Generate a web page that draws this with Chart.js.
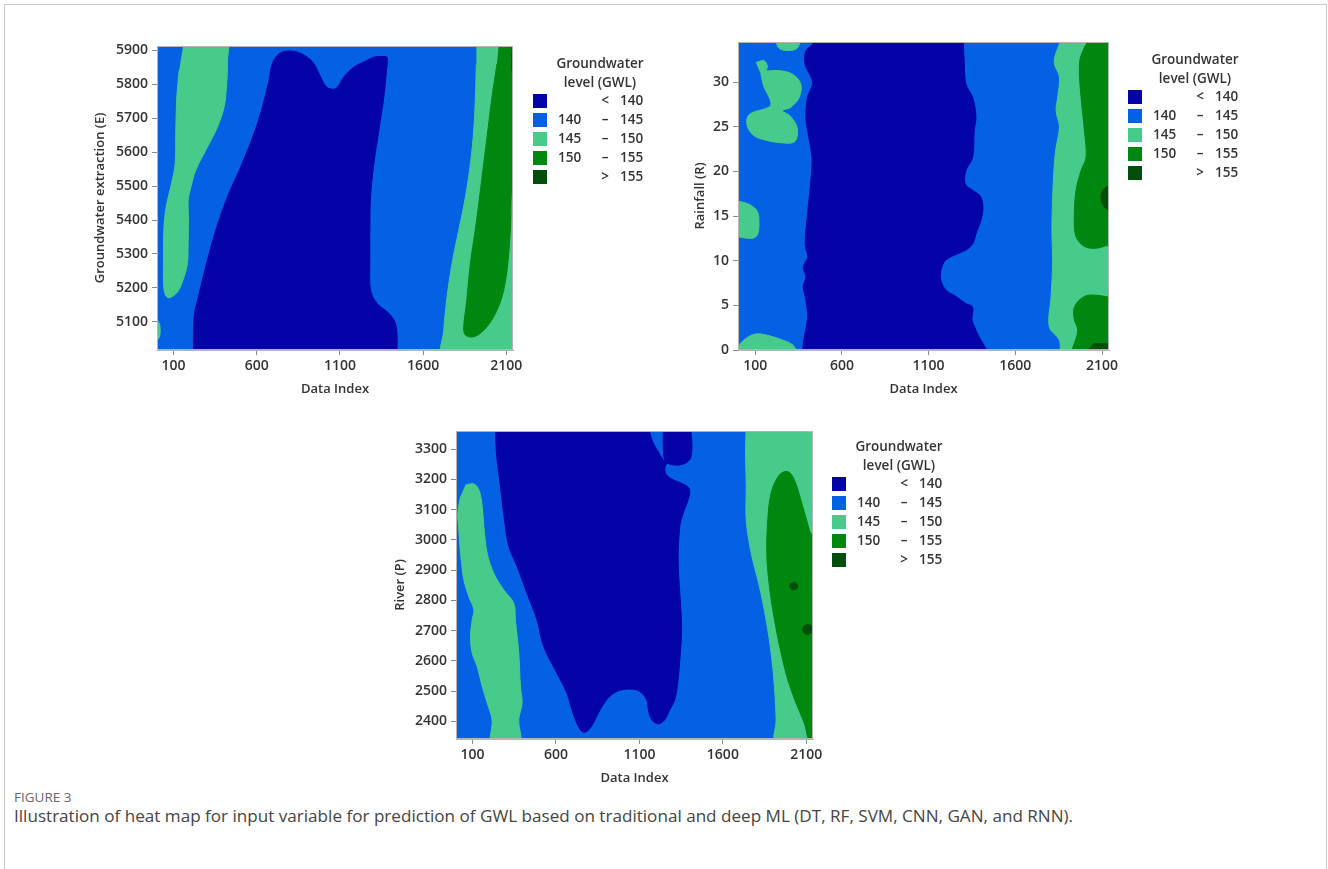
<!DOCTYPE html>
<html>
<head>
<meta charset="utf-8">
<script src="https://cdn.jsdelivr.net/npm/chart.js@4.4.1/dist/chart.umd.min.js"></script>
<style>
  body { margin: 0; background: #fff; width: 1328px; height: 869px; overflow: hidden; position: relative; font-family: "Open Sans", sans-serif; }
  .frame { position: absolute; left: 4px; top: 4px; width: 1321px; height: 900px; border: 1px solid #c9c9c9; border-bottom: none; }
  canvas { position: absolute; }
  .legend { position: absolute; font: 600 13.5px "Open Sans", sans-serif; color: #333; }
  .legend .ttl { position: absolute; left: 0; top: 0; width: 134px; text-align: center; line-height: 19px; }
  .legend .row { position: absolute; left: 0; width: 150px; height: 19px; line-height: 19px; }
  .legend .sw { position: absolute; left: 0; top: 2.5px; width: 14px; height: 14px; }
  .legend .lo { position: absolute; left: 25px; }
  .legend .sg { position: absolute; left: 62px; width: 20px; text-align: center; }
  .legend .hi { position: absolute; left: 87px; }
  .cap1 { position: absolute; left: 14px; top: 788px; font: 400 13.5px "Open Sans", sans-serif; color: #666; }
  .cap2 { position: absolute; left: 14px; top: 804px; font: 400 17.1px "Open Sans", sans-serif; color: #444; white-space: nowrap; }
</style>
</head>
<body>
<div class="frame"></div>
<canvas id="c1" width="470" height="380" style="left:70px; top:30px"></canvas>
<canvas id="c2" width="470" height="380" style="left:670px; top:30px"></canvas>
<canvas id="c3" width="470" height="384" style="left:370px; top:415px"></canvas>
<div class="legend" id="lg1" style="left:533px; top:54px"></div>
<div class="legend" id="lg2" style="left:1128px; top:50px"></div>
<div class="legend" id="lg3" style="left:832px; top:437px"></div>
<div class="cap1">FIGURE 3</div>
<div class="cap2">Illustration of heat map for input variable for prediction of GWL based on traditional and deep ML (DT, RF, SVM, CNN, GAN, and RNN).</div>
<script>
// axis values
const xTicks = [100, 600, 1100, 1600, 2100];
const xRange = [1, 2140];
const p1YTicks = [5100, 5200, 5300, 5400, 5500, 5600, 5700, 5800, 5900];
const p1YRange = [5017, 5913];
const p2YTicks = [0, 5, 10, 15, 20, 25, 30];
const p2YRange = [0, 34.5];
const p3YTicks = [2400, 2500, 2600, 2700, 2800, 2900, 3000, 3100, 3200, 3300];
const p3YRange = [2342, 3360];

// GWL classes: < 140, 140-145, 145-150, 150-155, > 155
const gwlBreaks = [140, 145, 150, 155];
const gwlColors = ['#0303a8', '#0561e3', '#47cb8b', '#00870f', '#004e0b'];

// contour outlines, [data index, variable]
// panel 1 - groundwater extraction
const p1GreenLeft = [[170,5950],[414,5950],[424,5861],[420,5802],[404,5733],[364,5674],[304,5615],[234,5547],[200,5488],[188,5458],[190,5409],[188,5331],[184,5272],[164,5233],[124,5188],[68,5171],[44,5193],[40,5272],[44,5390],[60,5449],[88,5507],[110,5566],[114,5664],[120,5763],[134,5841]];
const p1GreenEdge = [[-30,5110],[10,5100],[20,5075],[10,5050],[-30,5040]];
const p1DarkBlue = [[220,4990],[224,5115],[254,5183],[304,5282],[354,5370],[424,5468],[504,5557],[584,5655],[634,5733],[674,5812],[694,5861],[734,5890],[784,5898],[844,5895],[904,5880],[944,5861],[984,5822],[1020,5792],[1074,5787],[1124,5822],[1184,5851],[1244,5866],[1304,5880],[1354,5882],[1384,5879],[1380,5841],[1364,5763],[1334,5664],[1304,5566],[1284,5468],[1280,5370],[1280,5272],[1284,5193],[1324,5154],[1394,5125],[1434,5095],[1444,5046],[1440,4990]];
const p1GreenRight = [[1920,5950],[2200,5950],[2200,4990],[1720,4990],[1724,5075],[1744,5174],[1774,5272],[1814,5370],[1854,5468],[1884,5566],[1904,5664],[1914,5763],[1920,5861]];
const p1Mid = [[2060,5950],[2200,5950],[2200,5566],[2140,5517],[2124,5370],[2104,5252],[2074,5174],[2024,5115],[1964,5075],[1904,5056],[1854,5061],[1844,5085],[1860,5154],[1884,5272],[1924,5409],[1954,5527],[1984,5645],[2014,5763],[2044,5861]];
const p1High = [[2128,5950],[2200,5950],[2200,5820],[2140,5831],[2132,5890]];

// panel 2 - rainfall
const p2DarkBlue = [[450,36],[431,34.3],[392,33.5],[388,32.0],[421,30.6],[431,29.8],[402,28.3],[392,26.1],[402,24.6],[427,21.6],[421,19.0],[402,15.3],[388,11.9],[402,10.4],[377,9.3],[392,8.2],[377,7.1],[388,6.0],[402,4.1],[408,-1],[1431,-1],[1373,2.2],[1350,3.4],[1354,4.8],[1315,5.2],[1258,6.0],[1200,6.7],[1171,7.8],[1171,8.9],[1200,10.1],[1315,11.2],[1354,11.9],[1373,13.0],[1411,15.3],[1402,17.1],[1354,17.9],[1311,18.6],[1315,20.1],[1354,21.6],[1363,24.6],[1373,26.1],[1354,28.3],[1315,29.8],[1306,32.1],[1296,36]];
const p2GreenTop = [[205,36],[230,34.0],[260,33.6],[320,33.6],[350,34.0],[375,36]];
const p2GreenBlob = [[104,32.2],[152,32.4],[171,31.7],[162,31.3],[238,31.3],[315,30.9],[363,29.8],[354,28.3],[306,27.2],[258,26.8],[296,26.3],[335,25.3],[344,24.2],[325,23.3],[258,23.2],[162,23.5],[94,24.0],[56,25.0],[56,26.1],[85,26.6],[152,27.0],[190,27.4],[181,28.3],[152,29.4],[133,30.9]];
const p2GreenEdge = [[-30,16.7],[20,16.6],[75,16.2],[113,15.5],[122,14.3],[113,12.9],[80,12.5],[-30,12.8]];
const p2GreenBottom = [[-30,-1],[0,0.3],[40,1.2],[104,1.8],[180,1.6],[260,1.1],[320,0.5],[363,-1]];
const p2GreenRight = [[1892,36],[1835,33.3],[1825,32.1],[1854,30.6],[1844,28.3],[1835,26.8],[1854,25.0],[1835,22.7],[1825,20.9],[1815,17.1],[1811,13.4],[1815,9.7],[1806,6.0],[1796,2.6],[1854,1.1],[1873,-1],[2200,-1],[2200,36]];
const p2MidUpper = [[2056,36],[1979,33.0],[1969,31.3],[1979,28.3],[1998,24.6],[2008,21.6],[1979,20.1],[1950,17.9],[1940,14.9],[1950,12.7],[1998,11.6],[2065,11.4],[2133,11.7],[2200,11.7],[2200,36]];
const p2MidLower = [[2200,5.6],[2085,6.1],[1998,6.0],[1940,4.8],[1940,3.4],[1960,2.2],[1931,-1],[2200,-1]];
const p2HighA = [[2200,18.6],[2142,18.4],[2104,17.9],[2094,17.0],[2113,16.0],[2142,15.7],[2200,15.5]];
const p2HighB = [[1998,-1],[2046,0.6],[2104,0.7],[2142,0.6],[2200,-1]];

// panel 3 - river
const p3DarkBlue = [[237,3375],[243,3287],[267,3177],[291,3067],[317,2979],[367,2912],[426,2824],[486,2736],[526,2648],[605,2560],[665,2494],[695,2439],[725,2394],[755,2367],[785,2367],[824,2394],[854,2428],[904,2472],[964,2499],[1043,2507],[1103,2499],[1143,2472],[1153,2439],[1173,2406],[1212,2392],[1252,2406],[1282,2439],[1312,2472],[1332,2538],[1342,2604],[1352,2681],[1352,2736],[1342,2824],[1332,2934],[1342,3044],[1362,3088],[1392,3133],[1401,3166],[1372,3182],[1302,3199],[1262,3215],[1252,3237],[1262,3254],[1242,3265],[1212,3292],[1179,3325],[1153,3375]];
const p3DarkBlueTop = [[1242,3375],[1246,3276],[1266,3254],[1342,3248],[1401,3265],[1415,3309],[1405,3375]];
const p3GreenLeft = [[58,3182],[108,3185],[138,3166],[158,3111],[168,3044],[188,2956],[227,2890],[287,2835],[347,2791],[357,2736],[377,2626],[387,2516],[397,2461],[377,2406],[381,2323],[217,2323],[217,2406],[188,2461],[158,2516],[128,2582],[98,2626],[88,2681],[98,2736],[108,2769],[78,2813],[48,2868],[28,2956],[18,3033],[12,3088],[28,3144]];
const p3GreenRight = [[1740,3375],[1736,3287],[1740,3177],[1740,3066],[1770,2956],[1819,2846],[1859,2736],[1889,2626],[1909,2516],[1919,2406],[1919,2323],[2200,2323],[2200,3375]];
const p3Mid = [[2200,2960],[2200,2323],[2128,2323],[2088,2394],[2038,2461],[1989,2538],[1949,2626],[1909,2736],[1879,2846],[1863,2956],[1869,3066],[1889,3155],[1939,3215],[1989,3226],[2028,3199],[2078,3111],[2118,3033]];
const p3HighA = [[2024,2861],[2041,2857],[2048,2848],[2041,2839],[2024,2835],[2007,2839],[2000,2848],[2007,2857]];
const p3HighB = [[2108,2722],[2129,2717],[2138,2705],[2129,2693],[2108,2688],[2087,2693],[2078,2705],[2087,2717]];

const tickFont = { family: 'Open Sans', size: 14, weight: '600' };
const titleFont = { family: 'Open Sans', size: 13, weight: '600' };

// light blue (140-145) under everything, thin frame round the plot
const plotBg = {
    id: 'plotBg',
    beforeDraw(chart) {
        const { ctx, chartArea: a } = chart;
        ctx.save();
        ctx.fillStyle = gwlColors[1];
        ctx.fillRect(a.left, a.top, a.width, a.height);
        ctx.restore();
    },
    afterDraw(chart) {
        const { ctx, chartArea: a } = chart;
        ctx.save();
        ctx.strokeStyle = '#b4b4b4';
        ctx.lineWidth = 1;
        ctx.strokeRect(a.left + 0.5, a.top + 0.5, a.width - 1, a.height - 1);
        ctx.restore();
    }
};

function buildChart(id, yTitle, yRange, yTicks, layers, fit) {
    const ctx = document.getElementById(id).getContext('2d');
    return new Chart(ctx, {
        type: 'scatter',
        data: {
            datasets: layers.map((l, i) => ({
                data: l[0].map(p => ({ x: p[0], y: p[1] })),
                showLine: true,
                fill: 'shape',
                backgroundColor: gwlColors[l[1]],
                borderColor: gwlColors[l[1]],
                borderWidth: 1,
                pointRadius: 0,
                tension: 0.35,
                order: -i
            }))
        },
        options: {
            responsive: false,
            animation: false,
            devicePixelRatio: 1,
            layout: { padding: fit.pad },
            plugins: { legend: { display: false }, tooltip: { enabled: false } },
            scales: {
                x: {
                    type: 'linear', min: xRange[0], max: xRange[1],
                    afterBuildTicks: s => { s.ticks = xTicks.map(v => ({ value: v })); },
                    afterFit: s => { s.height = 60; s.paddingLeft = 0; s.paddingRight = 0; },
                    ticks: { color: '#333', font: tickFont, padding: 3, maxRotation: 0, autoSkip: false, callback: v => String(v) },
                    grid: { drawOnChartArea: false, tickLength: 5, color: '#8a8a8a' },
                    border: { color: '#b4b4b4' },
                    title: { display: true, text: 'Data Index', color: '#333', font: titleFont, padding: { top: 0, bottom: 13 } }
                },
                y: {
                    type: 'linear', min: yRange[0], max: yRange[1],
                    afterBuildTicks: s => { s.ticks = yTicks.map(v => ({ value: v })); },
                    afterFit: s => { s.width = fit.yw; s.paddingTop = 0; s.paddingBottom = 0; },
                    ticks: { color: '#333', font: tickFont, padding: 4, autoSkip: false, callback: v => String(v) },
                    grid: { drawOnChartArea: false, tickLength: 5, color: '#8a8a8a' },
                    border: { color: '#b4b4b4' },
                    title: { display: true, text: yTitle, color: '#333', font: titleFont, padding: { top: 22, bottom: 0 } }
                }
            }
        },
        plugins: [plotBg]
    });
}

buildChart('c1', 'Groundwater extraction (E)', p1YRange, p1YTicks, [
    [p1GreenLeft, 2], [p1GreenEdge, 2], [p1DarkBlue, 0], [p1GreenRight, 2], [p1Mid, 3], [p1High, 4]
], { yw: 87, pad: { left: 0, top: 16, right: 27, bottom: 0 } });

buildChart('c2', 'Rainfall (R)', p2YRange, p2YTicks, [
    [p2DarkBlue, 0], [p2GreenTop, 2], [p2GreenBlob, 2], [p2GreenEdge, 2], [p2GreenBottom, 2],
    [p2GreenRight, 2], [p2MidUpper, 3], [p2MidLower, 3], [p2HighA, 4], [p2HighB, 4]
], { yw: 68, pad: { left: 0, top: 12, right: 31, bottom: 0 } });

buildChart('c3', 'River (P)', p3YRange, p3YTicks, [
    [p3GreenLeft, 2], [p3DarkBlue, 0], [p3DarkBlueTop, 0], [p3GreenRight, 2], [p3Mid, 3], [p3HighA, 4], [p3HighB, 4]
], { yw: 86, pad: { left: 0, top: 16, right: 27, bottom: 0 } });

// legends
function legendRows() {
    const b = gwlBreaks;
    const rows = [['', '<', b[0]]];
    for (let i = 0; i < b.length - 1; i++) rows.push([b[i], '–', b[i + 1]]);
    rows.push(['', '>', b[b.length - 1]]);
    return rows;
}
['lg1', 'lg2', 'lg3'].forEach(id => {
    const el = document.getElementById(id);
    let html = '<div class="ttl">Groundwater<br>level (GWL)</div>';
    legendRows().forEach((r, k) => {
        html += '<div class="row" style="top:' + (37 + 19 * k) + 'px">' +
            '<div class="sw" style="background:' + gwlColors[k] + '"></div>' +
            '<span class="lo">' + r[0] + '</span><span class="sg">' + r[1] + '</span><span class="hi">' + r[2] + '</span></div>';
    });
    el.innerHTML = html;
});
</script>
</body>
</html>
